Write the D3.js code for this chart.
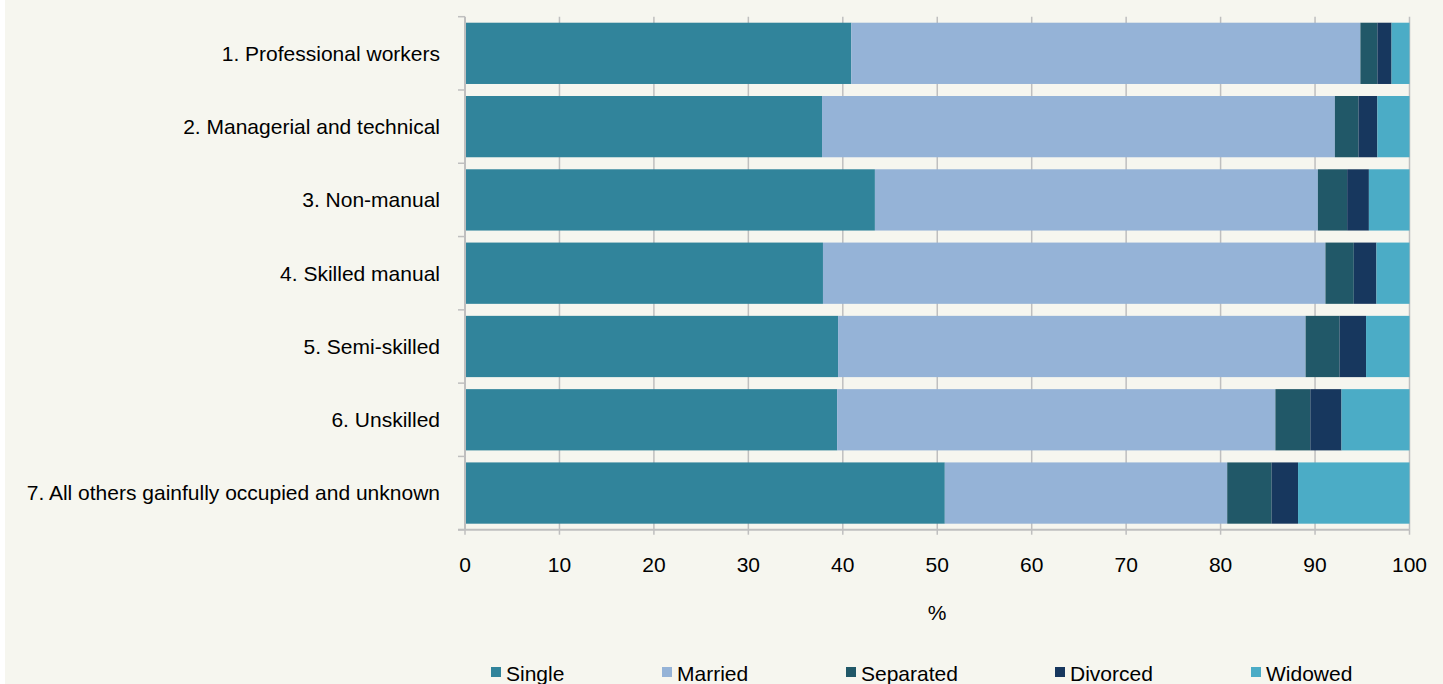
<!doctype html>
<html>
<head>
    <script src="https://d3js.org/d3.v7.min.js"></script>
    <style>
        html, body { margin: 0; padding: 0; background: #ffffff; }
        svg { display: block; margin-left: 5px; background: #f6f6ef; }
        svg text { font-family: "Liberation Sans", Arial, sans-serif; fill: #000; font-size: 21px; }
    </style>
</head>
<body>
<script>
    // occupational groups, top to bottom
    let categories = [
        "1. Professional workers",
        "2. Managerial and technical",
        "3. Non-manual",
        "4. Skilled manual",
        "5. Semi-skilled",
        "6. Unskilled",
        "7. All others gainfully occupied and unknown"
    ];

    let seriesNames = ["Single", "Married", "Separated", "Divorced", "Widowed"];
    let seriesColors = ["#31849b", "#95b3d7", "#215868", "#17375e", "#4bacc6"];

    // percentages, one value per category
    let single    = [40.9, 37.8, 43.4, 37.9, 39.5, 39.4, 50.8];
    let married   = [53.9, 54.3, 46.9, 53.2, 49.5, 46.4, 29.9];
    let separated = [1.8, 2.5, 3.1, 3.0, 3.6, 3.7, 4.7];
    let divorced  = [1.5, 2.0, 2.3, 2.4, 2.8, 3.3, 2.8];
    let widowed   = [1.9, 3.4, 4.3, 3.5, 4.6, 7.2, 11.8];

    let xTicks = [0, 10, 20, 30, 40, 50, 60, 70, 80, 90, 100];

    let width = 1438, height = 684;
    let plotLeft = 460, plotRight = 1404.5, plotTop = 16.7, plotBottom = 529.7;

    let rows = categories.map((c, i) => ({
        cat: c,
        Single: single[i], Married: married[i], Separated: separated[i],
        Divorced: divorced[i], Widowed: widowed[i]
    }));

    let stacked = d3.stack().keys(seriesNames)(rows);

    let x = d3.scaleLinear().domain([0, 100]).range([plotLeft, plotRight]);
    let y = d3.scaleBand().domain(categories).range([plotTop, plotBottom])
              .paddingInner(0.164).paddingOuter(0.082);
    let color = d3.scaleOrdinal().domain(seriesNames).range(seriesColors);

    let svg = d3.select("body").append("svg")
                .attr("width", width)
                .attr("height", height);

    // vertical gridlines behind the bars
    svg.append("g").selectAll("line")
       .data(xTicks.slice(1))
       .join("line")
       .attr("x1", d => x(d)).attr("x2", d => x(d))
       .attr("y1", plotTop).attr("y2", plotBottom)
       .attr("stroke", "#bfbfbf").attr("stroke-width", 1.5);

    svg.append("g").selectAll("g")
       .data(stacked)
       .join("g")
       .attr("fill", d => color(d.key))
       .selectAll("rect")
       .data(d => d)
       .join("rect")
       .attr("x", d => x(d[0]))
       .attr("width", d => x(d[1]) - x(d[0]))
       .attr("y", d => y(d.data.cat))
       .attr("height", y.bandwidth());

    // left axis: line + ticks on band boundaries
    let yAxis = svg.append("g");
    yAxis.append("line")
         .attr("x1", plotLeft).attr("x2", plotLeft).attr("y1", plotTop).attr("y2", plotBottom)
         .attr("stroke", "#bfbfbf").attr("stroke-width", 2);
    let bounds = categories.map(c => y(c) - y.step() * 0.082).concat([plotBottom]);
    yAxis.selectAll(".tk").data(bounds).join("line")
         .attr("x1", plotLeft - 7).attr("x2", plotLeft)
         .attr("y1", d => d).attr("y2", d => d)
         .attr("stroke", "#bfbfbf").attr("stroke-width", 1.5);
    yAxis.selectAll("text").data(categories).join("text")
         .attr("x", plotLeft - 25)
         .attr("y", d => y(d) + y.bandwidth() / 2)
         .attr("dy", "0.35em")
         .attr("text-anchor", "end")
         .text(d => d);

    // bottom axis
    let xAxis = svg.append("g");
    xAxis.append("line")
         .attr("x1", plotLeft - 7).attr("x2", plotRight).attr("y1", plotBottom).attr("y2", plotBottom)
         .attr("stroke", "#bfbfbf").attr("stroke-width", 2);
    xAxis.selectAll(".tk").data(xTicks).join("line")
         .attr("x1", d => x(d)).attr("x2", d => x(d))
         .attr("y1", plotBottom).attr("y2", plotBottom + 5)
         .attr("stroke", "#bfbfbf").attr("stroke-width", 1.5);
    xAxis.selectAll("text").data(xTicks).join("text")
         .attr("x", d => x(d))
         .attr("y", 572)
         .attr("text-anchor", "middle")
         .text(d => d);

    svg.append("text")
       .attr("x", 932).attr("y", 620)
       .attr("text-anchor", "middle")
       .text("%");

    // legend
    let legendX = [486, 657, 841, 1050, 1246];
    let lg = svg.append("g").selectAll("g")
                .data(seriesNames)
                .join("g")
                .attr("transform", (d, i) => "translate(" + legendX[i] + ",667)");
    lg.append("rect")
      .attr("width", 10).attr("height", 10)
      .attr("fill", d => color(d));
    lg.append("text")
      .attr("x", 15).attr("y", 14)
      .text(d => d);
</script>
</body>
</html>
